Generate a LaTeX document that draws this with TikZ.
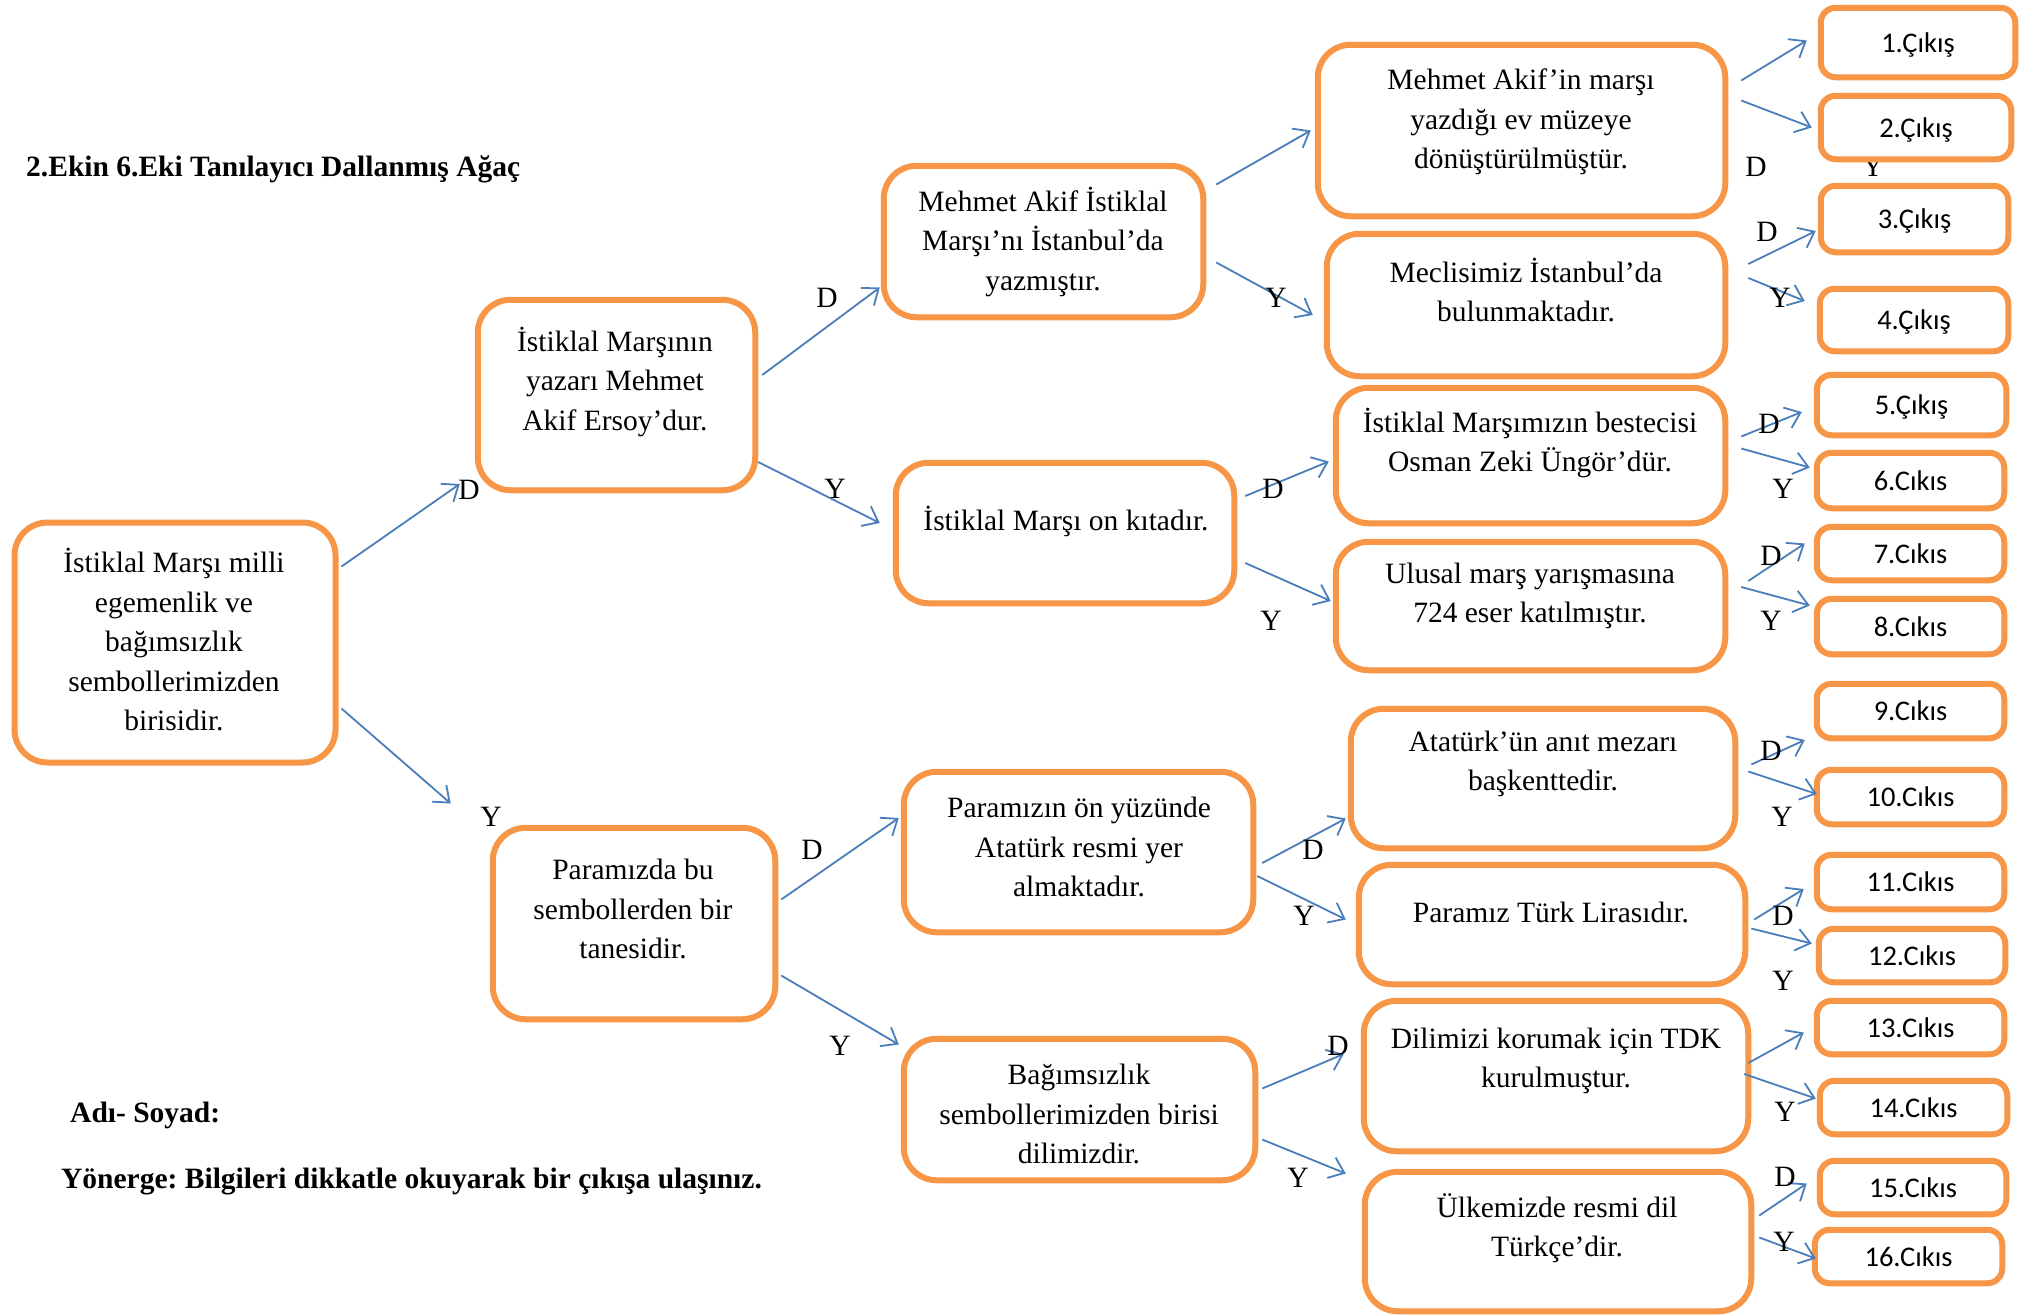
\documentclass[tikz,border=0pt]{standalone}
\usepackage{fontspec}
\setmainfont{Liberation Serif}
\newfontfamily\exitfamily{Carlito}
\usetikzlibrary{arrows.meta}
\definecolor{boxorange}{RGB}{247,150,70}
\definecolor{arrowblue}{RGB}{74,126,187}
\frenchspacing
\begin{document}
\begin{tikzpicture}[x=1pt,y=-1pt,
 box/.style={draw=boxorange, line width=6pt, rounded corners=33pt, fill=white, inner sep=0pt, outer sep=0pt},
 exitbox/.style={draw=boxorange, line width=6pt, rounded corners=15pt, fill=white, inner sep=0pt, outer sep=0pt, text height=22pt, text depth=3pt, font=\exitfamily\fontsize{28.5}{34}\selectfont},
 txt/.style={align=center, inner sep=0pt, font=\fontsize{29.5}{39.5}\selectfont},
 lbl/.style={inner sep=0pt, font=\fontsize{29.5}{35}\selectfont},
 arr/.style={draw=arrowblue, line width=1.8pt, -{Straight Barb[length=14pt,width=22pt]}},
 head/.style={inner sep=0pt, anchor=west, font=\bfseries\fontsize{29.5}{35}\selectfont}]
\useasboundingbox[fill=white] (0,0) rectangle (2033,1315);

% hidden label behind exit box 2
\node[lbl] (yhid) at (1873,167) {Y};

% headings
\node[head] (title) at (26,169) {2.Ekin 6.Eki Tanılayıcı Dallanmış Ağaç};
\node[head] (adsoyad) at (70,1115) {Adı- Soyad:};
\node[head] (yonerge) at (61,1181) {Yönerge: Bilgileri dikkatle okuyarak bir çıkışa ulaşınız.};

% question boxes
\node[box, minimum width=321pt, minimum height=240pt] (root) at (175,642.5) {};
\node[box, minimum width=277.5pt, minimum height=190.5pt] (b1) at (616.5,395) {};
\node[box, minimum width=282.5pt, minimum height=191.5pt] (p) at (634,923.5) {};
\node[box, minimum width=319.5pt, minimum height=151.5pt] (a) at (1043.5,241.5) {};
\node[box, minimum width=338.5pt, minimum height=140.5pt] (bon) at (1065,533) {};
\node[box, minimum width=349.5pt, minimum height=160.5pt] (q) at (1078.5,852) {};
\node[box, minimum width=351.5pt, minimum height=141.5pt] (r) at (1079.5,1109.5) {};
\node[box, minimum width=407.5pt, minimum height=171.5pt] (c1) at (1521.5,130.5) {};
\node[box, minimum width=398.5pt, minimum height=142.5pt] (c2) at (1526,305) {};
\node[box, minimum width=389.5pt, minimum height=135.5pt] (c3) at (1530.5,455.5) {};
\node[box, minimum width=389.5pt, minimum height=128.5pt] (c4) at (1530.5,606) {};
\node[box, minimum width=384.5pt, minimum height=139.5pt] (s) at (1543,778.5) {};
\node[box, minimum width=386.5pt, minimum height=119.5pt] (t) at (1552,924.5) {};
\node[box, minimum width=384.5pt, minimum height=150.5pt] (u) at (1556,1076) {};
\node[box, minimum width=386.5pt, minimum height=139.5pt] (v) at (1558,1241.5) {};

% texts of question boxes
\node[txt] (roott) at (174,640) {İstiklal Marşı milli\\egemenlik ve\\bağımsızlık\\sembollerimizden\\birisidir.};
\node[txt] (b1t) at (615,382) {İstiklal Marşının\\yazarı Mehmet\\Akif Ersoy’dur.};
\node[txt] (pt) at (633,909) {Paramızda bu\\sembollerden bir\\tanesidir.};
\node[txt] (at) at (1043,242) {Mehmet Akif İstiklal\\Marşı’nı İstanbul’da\\yazmıştır.};
\node[txt] (bont) at (1066,521) {İstiklal Marşı on kıtadır.};
\node[txt] (qt) at (1079,847) {Paramızın ön yüzünde\\Atatürk resmi yer\\almaktadır.};
\node[txt] (rt) at (1079,1114) {Bağımsızlık\\sembollerimizden birisi\\dilimizdir.};
\node[txt] (c1t) at (1521,122) {Mehmet Akif’in marşı\\yazdığı ev müzeye\\dönüştürülmüştür.};
\node[txt] (c2t) at (1526,290) {Meclisimiz İstanbul’da\\bulunmaktadır.};
\node[txt] (c3t) at (1530,443) {İstiklal Marşımızın bestecisi\\Osman Zeki Üngör’dür.};
\node[txt] (c4t) at (1530,596) {Ulusal marş yarışmasına\\724 eser katılmıştır.};
\node[txt] (st) at (1543,764) {Atatürk’ün anıt mezarı\\başkenttedir.};
\node[txt] (tt) at (1551,912) {Paramız Türk Lirasıdır.};
\node[txt] (ut) at (1556,1061) {Dilimizi korumak için TDK\\kurulmuştur.};
\node[txt] (vt) at (1557,1228) {Ülkemizde resmi dil\\Türkçe’dir.};

% exit boxes
\node[exitbox, minimum width=194.5pt, minimum height=69.5pt] (e1) at (1918,42.5) {1.Çıkış};
\node[exitbox, minimum width=190.5pt, minimum height=63.5pt] (e2) at (1916,127.5) {2.Çıkış};
\node[exitbox, minimum width=187.5pt, minimum height=66.5pt] (e3) at (1914.5,219) {3.Çıkış};
\node[exitbox, minimum width=188.5pt, minimum height=62.5pt] (e4) at (1914,320) {4.Çıkış};
\node[exitbox, minimum width=189.5pt, minimum height=60.5pt] (e5) at (1911.5,405) {5.Çıkış};
\node[exitbox, minimum width=187.5pt, minimum height=55.5pt] (e6) at (1910.5,480.5) {6.Cıkıs};
\node[exitbox, minimum width=187.5pt, minimum height=53.5pt] (e7) at (1910.5,553.5) {7.Cıkıs};
\node[exitbox, minimum width=187.5pt, minimum height=55.5pt] (e8) at (1910.5,626.5) {8.Cıkıs};
\node[exitbox, minimum width=187.5pt, minimum height=54.5pt] (e9) at (1910.5,711) {9.Cıkıs};
\node[exitbox, minimum width=187.5pt, minimum height=54.5pt] (e10) at (1910.5,797) {10.Cıkıs};
\node[exitbox, minimum width=187.5pt, minimum height=54.5pt] (e11) at (1910.5,882) {11.Cıkıs};
\node[exitbox, minimum width=186.5pt, minimum height=53.5pt] (e12) at (1912,955.5) {12.Cıkıs};
\node[exitbox, minimum width=187.5pt, minimum height=53.5pt] (e13) at (1910.5,1027.5) {13.Cıkıs};
\node[exitbox, minimum width=187.5pt, minimum height=53.5pt] (e14) at (1913.5,1107.5) {14.Cıkıs};
\node[exitbox, minimum width=186.5pt, minimum height=53.5pt] (e15) at (1913,1187.5) {15.Cıkıs};
\node[exitbox, minimum width=187.5pt, minimum height=53.5pt] (e16) at (1908.5,1256.5) {16.Cıkıs};

% connectors
\draw[arr] ([shift={(6,-76)}]root.east) -- ([shift={(-18,89)}]b1.west);
\draw[arr] ([shift={(6,66)}]root.east) -- ([shift={(-42,-120)}]p.west);
\draw[arr] ([shift={(7,-20)}]b1.east) -- ([shift={(-4,46)}]a.west);
\draw[arr] ([shift={(3,67)}]b1.east) -- ([shift={(-16,-10)}]bon.west);
\draw[arr] ([shift={(13,-57)}]a.east) -- ([shift={(-7,0)}]c1.west);
\draw[arr] ([shift={(13,21)}]a.east) -- ([shift={(-14,10)}]c2.west);
\draw[arr] ([shift={(11,-37)}]bon.east) -- ([shift={(-7,6)}]c3.west);
\draw[arr] ([shift={(11,30)}]bon.east) -- ([shift={(-5,-5)}]c4.west);
\draw[arr] ([shift={(6,-24)}]p.east) -- ([shift={(-5,-34)}]q.west);
\draw[arr] ([shift={(6,52)}]p.east) -- ([shift={(-5,-65)}]r.west);
\draw[arr] ([shift={(9,11)}]q.east) -- ([shift={(-5,40)}]s.west);
\draw[arr] ([shift={(4,24)}]q.east) -- ([shift={(-13,-5)}]t.west);
\draw[arr] ([shift={(7,-21)}]r.east) -- ([shift={(-20,-22)}]u.west);
\draw[arr] ([shift={(7,30)}]r.east) -- ([shift={(-19,-68)}]v.west);
\draw[arr] ([shift={(16,-50)}]c1.east) -- ([shift={(-14,-2)}]e1.west);
\draw[arr] ([shift={(16,-30)}]c1.east) -- ([shift={(-9,0)}]e2.west);
\draw[arr] ([shift={(23,-41)}]c2.east) -- ([shift={(-5,12)}]e3.west);
\draw[arr] ([shift={(23,-27)}]c2.east) -- ([shift={(-15,-19)}]e4.west);
\draw[arr] ([shift={(16,-19)}]c3.east) -- ([shift={(-15,7)}]e5.west);
\draw[arr] ([shift={(16,-7)}]c3.east) -- ([shift={(-7,-13)}]e6.west);
\draw[arr] ([shift={(23,-25)}]c4.east) -- ([shift={(-12,-10)}]e7.west);
\draw[arr] ([shift={(16,-19)}]c4.east) -- ([shift={(-7,-21)}]e8.west);
\draw[arr] ([shift={(16,-14)}]s.east) -- ([shift={(-12,29)}]e9.west);
\draw[arr] ([shift={(13,-7)}]s.east) -- ([shift={(0,-3)}]e10.west);
\draw[arr] ([shift={(9,-5)}]t.east) -- ([shift={(-13,7)}]e11.west);
\draw[arr] ([shift={(6,4)}]t.east) -- ([shift={(-7,-12)}]e12.west);
\draw[arr] ([shift={(0,-13)}]u.east) -- ([shift={(-13,5)}]e13.west);
\draw[arr] ([shift={(-4,-2)}]u.east) -- ([shift={(-4,-9)}]e14.west);
\draw[arr] ([shift={(8,-26)}]v.east) -- ([shift={(-13,-4)}]e15.west);
\draw[arr] ([shift={(8,-4)}]v.east) -- ([shift={(1,2)}]e16.west);

% D / Y labels
\node[lbl] (l1) at (469,490) {D};
\node[lbl] (l2) at (491,817) {Y};
\node[lbl] (l3) at (827,298) {D};
\node[lbl] (l4) at (835,489) {Y};
\node[lbl] (l5) at (1276,298) {Y};
\node[lbl] (l6) at (1756,167) {D};
\node[lbl] (l7) at (1767,232) {D};
\node[lbl] (l8) at (1780,298) {Y};
\node[lbl] (l9) at (1273,489) {D};
\node[lbl] (l10) at (1271,621) {Y};
\node[lbl] (l11) at (1769,424) {D};
\node[lbl] (l12) at (1783,489) {Y};
\node[lbl] (l13) at (1771,556) {D};
\node[lbl] (l14) at (1771,621) {Y};
\node[lbl] (l15) at (812,850) {D};
\node[lbl] (l16) at (840,1046) {Y};
\node[lbl] (l17) at (1313,850) {D};
\node[lbl] (l18) at (1304,916) {Y};
\node[lbl] (l19) at (1338,1046) {D};
\node[lbl] (l20) at (1298,1178) {Y};
\node[lbl] (l21) at (1771,751) {D};
\node[lbl] (l22) at (1782,817) {Y};
\node[lbl] (l23) at (1783,916) {D};
\node[lbl] (l24) at (1783,981) {Y};
\node[lbl] (l25) at (1785,1112) {Y};
\node[lbl] (l26) at (1785,1177) {D};
\node[lbl] (l27) at (1784,1242) {Y};
\end{tikzpicture}
\end{document}
